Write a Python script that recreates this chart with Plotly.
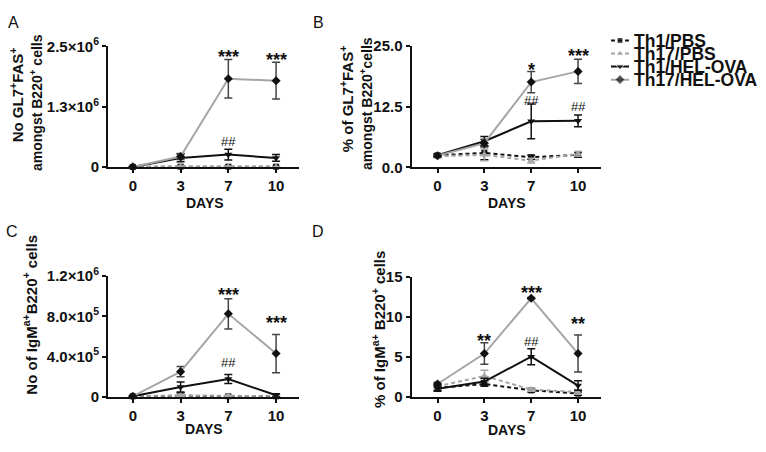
import plotly.graph_objects as go

W, H = 766, 452

days = ["0", "3", "7", "10"]
groups = ["Th1/PBS", "Th17/PBS", "Th1/HEL-OVA", "Th17/HEL-OVA"]

# Panel A: No GL7+FAS+ amongst B220+ cells
a_th1_pbs = [0.005e6, 0.01e6, 0.01e6, 0.01e6]
a_th1_pbs_err = [0.003e6, 0.02e6, 0.01e6, 0.005e6]
a_th17_pbs = [0.005e6, 0.015e6, 0.01e6, 0.005e6]
a_th17_pbs_err = [0.003e6, 0.01e6, 0.01e6, 0.005e6]
a_th1_hel = [0.005e6, 0.19e6, 0.26e6, 0.19e6]
a_th1_hel_err = [0.003e6, 0.08e6, 0.11e6, 0.07e6]
a_th17_hel = [0.005e6, 0.22e6, 1.83e6, 1.79e6]
a_th17_hel_err = [0.003e6, 0.06e6, 0.40e6, 0.38e6]

# Panel B: % of GL7+FAS+ amongst B220+ cells
b_th1_pbs = [2.5, 3.0, 2.1, 2.6]
b_th1_pbs_err = [0.3, 1.4, 0.4, 0.5]
b_th17_pbs = [2.3, 2.6, 1.4, 2.8]
b_th17_pbs_err = [0.3, 1.2, 0.5, 0.5]
b_th1_hel = [2.5, 5.4, 9.5, 9.6]
b_th1_hel_err = [0.3, 1.0, 3.6, 1.2]
b_th17_hel = [2.4, 5.0, 17.6, 19.8]
b_th17_hel_err = [0.3, 0.8, 2.2, 2.5]

# Panel C: No of IgMa+ B220+ cells
c_th1_pbs = [0.05e5, 0.1e5, 0.05e5, 0.05e5]
c_th1_pbs_err = [0.03e5, 0.3e5, 0.05e5, 0.05e5]
c_th17_pbs = [0.05e5, 0.15e5, 0.1e5, 0.05e5]
c_th17_pbs_err = [0.03e5, 0.1e5, 0.05e5, 0.05e5]
c_th1_hel = [0.05e5, 0.98e5, 1.76e5, 0.15e5]
c_th1_hel_err = [0.03e5, 0.5e5, 0.45e5, 0.15e5]
c_th17_hel = [0.05e5, 2.5e5, 8.25e5, 4.3e5]
c_th17_hel_err = [0.03e5, 0.5e5, 1.5e5, 1.9e5]

# Panel D: % of IgMa+ B220+ cells
d_th1_pbs = [1.1, 1.6, 0.8, 0.4]
d_th1_pbs_err = [0.3, 0.3, 0.2, 0.2]
d_th17_pbs = [1.3, 2.6, 0.9, 0.6]
d_th17_pbs_err = [0.3, 0.7, 0.2, 0.3]
d_th1_hel = [1.0, 1.9, 5.0, 1.4]
d_th1_hel_err = [0.3, 0.4, 1.0, 0.6]
d_th17_hel = [1.6, 5.4, 12.3, 5.4]
d_th17_hel_err = [0.2, 1.35, 0.1, 2.3]

# significance marks: (day, y, text)
a_sig = [("7", 2.36e6, "***"), ("10", 2.31e6, "***"), ("7", 0.54e6, "##")]
b_sig = [("7", 21.0, "*"), ("7", 13.9, "##"), ("10", 23.7, "***"), ("10", 12.5, "##")]
c_sig = [("7", 10.5e5, "***"), ("7", 3.4e5, "##"), ("10", 7.7e5, "***")]
d_sig = [("3", 7.5, "**"), ("7", 13.4, "***"), ("7", 6.9, "##"), ("10", 9.6, "**")]

a_ticks = [0, 1.25e6, 2.5e6]
a_ticktext = ["0", "1.3×10<sup>6</sup>", "2.5×10<sup>6</sup>"]
b_ticks = [0, 12.5, 25]
b_ticktext = ["0.0", "12.5", "25.0"]
c_ticks = [0, 4e5, 8e5, 1.2e6]
c_ticktext = ["0", "4.0×10<sup>5</sup>", "8.0×10<sup>5</sup>", "1.2×10<sup>6</sup>"]
d_ticks = [0, 5, 10, 15]
d_ticktext = ["0", "5", "10", "15"]

BLACK = "#111111"
GRAY = "#a6a6a6"
FONT = "Liberation Sans, Arial, sans-serif"

styles = {
    "Th1/PBS": dict(line=dict(color=BLACK, width=2, dash="4px,3px"),
                    marker=dict(symbol="square", size=6, color=BLACK), ecol=BLACK),
    "Th17/PBS": dict(line=dict(color=GRAY, width=2, dash="4px,3px"),
                     marker=dict(symbol="triangle-up", size=7, color=GRAY), ecol=GRAY),
    "Th1/HEL-OVA": dict(line=dict(color=BLACK, width=2),
                        marker=dict(symbol="triangle-down", size=7, color=BLACK), ecol=BLACK),
    "Th17/HEL-OVA": dict(line=dict(color=GRAY, width=2),
                         marker=dict(symbol="diamond", size=7, color=BLACK), ecol="#444444"),
}

panels = [
    ("x", "y", [a_th1_pbs, a_th17_pbs, a_th1_hel, a_th17_hel],
     [a_th1_pbs_err, a_th17_pbs_err, a_th1_hel_err, a_th17_hel_err], a_sig),
    ("x2", "y2", [b_th1_pbs, b_th17_pbs, b_th1_hel, b_th17_hel],
     [b_th1_pbs_err, b_th17_pbs_err, b_th1_hel_err, b_th17_hel_err], b_sig),
    ("x3", "y3", [c_th1_pbs, c_th17_pbs, c_th1_hel, c_th17_hel],
     [c_th1_pbs_err, c_th17_pbs_err, c_th1_hel_err, c_th17_hel_err], c_sig),
    ("x4", "y4", [d_th1_pbs, d_th17_pbs, d_th1_hel, d_th17_hel],
     [d_th1_pbs_err, d_th17_pbs_err, d_th1_hel_err, d_th17_hel_err], d_sig),
]

fig = go.Figure()
annotations = []

for xa, ya, series, errs, sig in panels:
    for g, vals, err in zip(groups, series, errs):
        st = styles[g]
        fig.add_trace(go.Scatter(
            x=days, y=vals, xaxis=xa, yaxis=ya, mode="lines+markers",
            line=st["line"], marker=st["marker"], showlegend=False, cliponaxis=False,
            error_y=dict(type="data", array=err, visible=True, color=st["ecol"],
                         thickness=1.5, width=4),
            name=g,
        ))
    for d, yv, txt in sig:
        star = txt.startswith("*")
        annotations.append(dict(
            x=days.index(d), y=yv, xref=xa, yref=ya, text=txt, showarrow=False,
            xanchor="center", yanchor="middle", yshift=-4 if star else 0,
            font=dict(family=FONT, size=18 if star else 13, color=BLACK,
                      weight="bold" if star else "normal"),
        ))

def px(v):
    return v / W

def py(v):
    return 1 - v / H

axis_common = dict(showgrid=False, zeroline=False, showline=True, linewidth=2,
                   linecolor=BLACK, ticks="outside", ticklen=4, tickwidth=2,
                   tickcolor=BLACK,
                   tickfont=dict(family=FONT, size=15, color=BLACK, weight="bold"))

xdom_left = [px(108), px(299)]
xdom_right = [px(411.5), px(601)]
xr_left = [-0.52, 3.48]
xr_right = [-0.556, 3.49]

layout_axes = {}
specs = [
    ("xaxis", "yaxis", xdom_left, xr_left, [py(163), py(37)], [0, 2.5e6], a_ticks, a_ticktext),
    ("xaxis2", "yaxis2", xdom_right, xr_right, [py(163.3), py(36.7)], [0, 25], b_ticks, b_ticktext),
    ("xaxis3", "yaxis3", xdom_left, xr_left, [py(402.7), py(276.7)], [0, 1.2e6], c_ticks, c_ticktext),
    ("xaxis4", "yaxis4", xdom_right, xr_right, [py(402.7), py(277.3)], [0, 15], d_ticks, d_ticktext),
]
for i, (xk, yk, xd, xr, yd, yr, tv, tt) in enumerate(specs):
    ya_name = "y" if i == 0 else f"y{i+1}"
    xa_name = "x" if i == 0 else f"x{i+1}"
    layout_axes[xk] = dict(axis_common, domain=xd, range=xr, type="category",
                           categoryorder="array", categoryarray=days, anchor=ya_name)
    layout_axes[yk] = dict(axis_common, domain=yd, range=yr, tickvals=tv, ticktext=tt,
                           anchor=xa_name)

# legend area axis
layout_axes["xaxis5"] = dict(domain=[px(611), px(629)], range=[0, 1], visible=False,
                             anchor="y5", fixedrange=True)
layout_axes["yaxis5"] = dict(domain=[py(78.5), py(24)], range=[4, 0], visible=False,
                             anchor="x5", fixedrange=True)
for i, g in enumerate(groups):
    st = styles[g]
    fig.add_trace(go.Scatter(
        x=[0, 0.5, 1], y=[i + 0.5] * 3, xaxis="x5", yaxis="y5",
        mode="lines+markers", line=st["line"],
        marker=dict(st["marker"], size=[0, st["marker"]["size"], 0]),
        showlegend=False, cliponaxis=False, hoverinfo="skip",
    ))
    annotations.append(dict(
        x=px(632), y=i + 0.5, xref="paper", yref="y5", text=g, showarrow=False,
        xanchor="left", yanchor="middle",
        font=dict(family=FONT, size=17.5, color=BLACK, weight="bold"),
    ))

# panel letters
for lab, (lx, ly) in zip("ABCD", [(13, 12), (318, 12), (12, 230), (318, 230)]):
    annotations.append(dict(x=px(lx), y=py(ly), xref="paper", yref="paper", text=lab,
                            showarrow=False, xanchor="center", yanchor="middle",
                            font=dict(family=FONT, size=16, color=BLACK)))

# x titles
for (tx, ty) in [(205, 200), (507, 200), (204, 436), (507, 437)]:
    annotations.append(dict(x=px(tx), y=py(ty), xref="paper", yref="paper", text="DAYS",
                            showarrow=False, xanchor="center", yanchor="middle",
                            font=dict(family=FONT, size=14, color=BLACK, weight="bold")))

# y titles (one annotation per line)
ytitles = [
    ("No GL7<sup>+</sup>FAS<sup>+</sup>", 16, 88, 15),
    ("amongst B220<sup>+</sup> cells", 36, 96, 14),
    ("% of GL7<sup>+</sup>FAS<sup>+</sup>", 346, 92, 15),
    ("amongst B220<sup>+</sup>cells", 366, 97, 14),
    ("No of IgM<sup>a+</sup>B220<sup>+</sup> cells", 30, 317, 15),
    ("% of IgM<sup>a+</sup> B220<sup>+</sup> cells", 378, 333, 15),
]
for txt, tx, ty, fs in ytitles:
    annotations.append(dict(x=px(tx), y=py(ty), xref="paper", yref="paper", text=txt,
                            showarrow=False, xanchor="center", yanchor="middle",
                            textangle=-90,
                            font=dict(family=FONT, size=fs, color=BLACK, weight="bold")))

fig.update_layout(
    width=W, height=H, margin=dict(l=0, r=0, t=0, b=0),
    paper_bgcolor="white", plot_bgcolor="white",
    showlegend=False, annotations=annotations, **layout_axes,
)

page_fix = (
    "var de=document.documentElement, b=document.body;"
    "[de,b].forEach(function(e){e.style.margin='0';e.style.padding='0';});"
)

fig.write_html("out.html", config={"displayModeBar": False}, post_script=page_fix)
